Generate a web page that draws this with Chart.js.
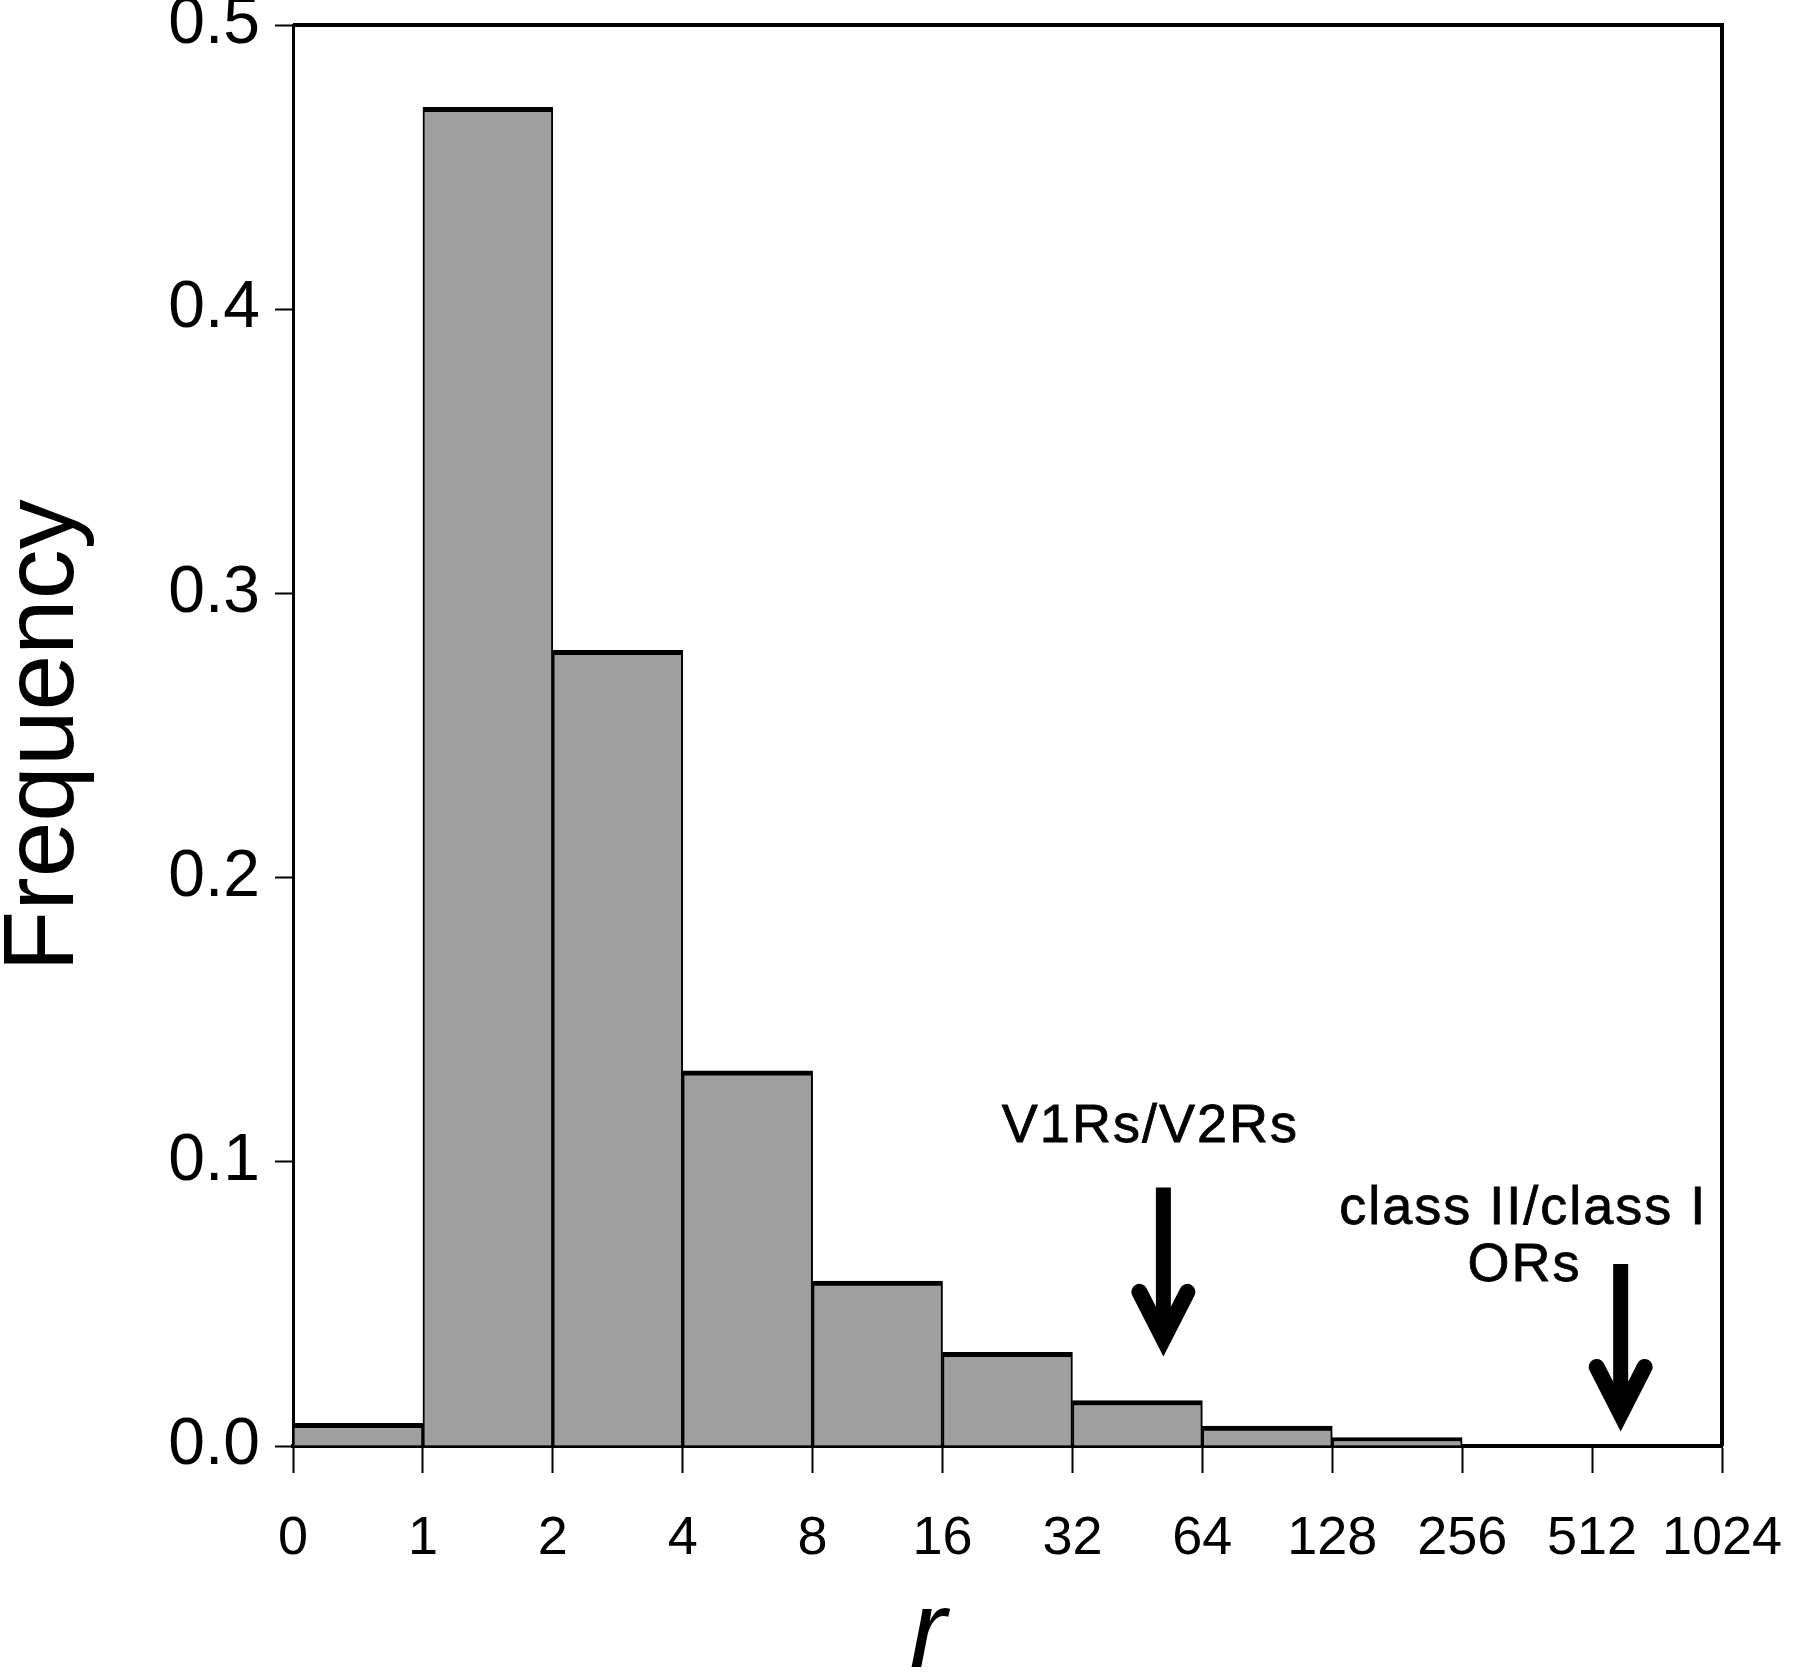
<!DOCTYPE html>
<html>
<head>
<meta charset="utf-8">
<script src="https://cdn.jsdelivr.net/npm/chart.js@4.4.1/dist/chart.umd.min.js"></script>
<style>
  html, body { margin: 0; padding: 0; background: #fff; }
  #wrap { width: 1800px; height: 1673px; position: relative; }
</style>
</head>
<body>
<div id="wrap"><canvas id="chartFreq"></canvas></div>
<script>
// bins: 0-1, 1-2, 2-4, ... 512-1024
const binEdges = ['0', '1', '2', '4', '8', '16', '32', '64', '128', '256', '512', '1024'];
const frequency = [0.008, 0.471, 0.280, 0.132, 0.058, 0.033, 0.016, 0.007, 0.003, 0, 0];

// annotations, in axis units (bin index, frequency)
const arrowX = [6.70, 10.22];
const arrowTop = [0.091, 0.064];
const arrowTip = [0.031, 0.0046];
const noteText = ['V1Rs/V2Rs', 'class II/class I', 'ORs'];
const noteX = [6.60, 9.47, 9.48];
const noteY = [0.107, 0.078, 0.058];

const FONT = '"Liberation Sans", Arial, Helvetica, sans-serif';

const frameAndNotes = {
  id: 'frameAndNotes',
  afterDraw(chart) {
    const { ctx, chartArea: a, scales } = chart;
    ctx.save();
    // top and right edges of the box
    ctx.strokeStyle = '#000';
    ctx.lineWidth = 4;
    ctx.beginPath();
    ctx.moveTo(a.left, a.top);
    ctx.lineTo(a.right, a.top);
    ctx.lineTo(a.right, a.bottom);
    ctx.stroke();

    // arrows
    for (let i = 0; i < arrowX.length; i++) {
      const x = scales.x.getPixelForValue(arrowX[i]);
      const y0 = scales.y.getPixelForValue(arrowTop[i]);
      const y1 = scales.y.getPixelForValue(arrowTip[i]);
      ctx.lineWidth = 15;
      ctx.lineCap = 'butt';
      ctx.beginPath();
      ctx.moveTo(x, y0);
      ctx.lineTo(x, y1 - 20);
      ctx.stroke();
      // chevron head
      ctx.lineWidth = 16;
      ctx.lineCap = 'round';
      ctx.lineJoin = 'miter';
      ctx.miterLimit = 10;
      ctx.beginPath();
      ctx.moveTo(x - 24, y1 - 66);
      ctx.lineTo(x, y1 - 19);
      ctx.lineTo(x + 24, y1 - 66);
      ctx.stroke();
    }

    // labels
    ctx.fillStyle = '#000';
    ctx.strokeStyle = '#000';
    ctx.lineWidth = 0.8;
    ctx.font = '54px ' + FONT;
    ctx.letterSpacing = '2px';
    ctx.textAlign = 'center';
    ctx.textBaseline = 'alphabetic';
    for (let i = 0; i < noteText.length; i++) {
      const tx = scales.x.getPixelForValue(noteX[i]);
      const ty = scales.y.getPixelForValue(noteY[i]);
      ctx.fillText(noteText[i], tx, ty);
      ctx.strokeText(noteText[i], tx, ty);
    }
    ctx.letterSpacing = '0px';

    // x axis title
    ctx.font = 'italic 110px ' + FONT;
    ctx.fillText('r', 928, 1667);
    ctx.restore();
  }
};

const data = {
  datasets: [{
    label: 'Frequency',
    data: frequency.map((v, i) => ({ x: i + 0.5, y: v })),
    backgroundColor: '#9f9f9f',
    borderColor: '#000',
    borderWidth: { top: 5, left: 2, right: 2, bottom: 0 },
    borderSkipped: false,
    barPercentage: 1,
    categoryPercentage: 1
  }]
};

const config = {
  type: 'bar',
  data: data,
  options: {
    responsive: true,
    maintainAspectRatio: false,
    animation: false,
    devicePixelRatio: 1,
    layout: { padding: { top: 25, right: 78, left: 0, bottom: 0 } },
    plugins: {
      legend: { display: false },
      tooltip: { enabled: false }
    },
    scales: {
      x: {
        type: 'linear',
        min: 0,
        max: 11,
        offset: false,
        grid: { offset: false, drawOnChartArea: false, drawTicks: true, tickLength: 27, tickWidth: 2, tickColor: '#000' },
        border: { display: true, color: '#000', width: 4 },
        ticks: {
          stepSize: 1,
          autoSkip: false,
          maxRotation: 0,
          padding: 34,
          color: '#000',
          font: { family: FONT, size: 54 },
          callback: (v) => binEdges[v]
        },
        afterFit(scale) {
          scale.height = 227;
          scale.paddingLeft = 0;
          scale.paddingRight = 0;
        }
      },
      y: {
        min: 0,
        max: 0.5,
        grid: { drawOnChartArea: false, drawTicks: true, tickLength: 18, tickWidth: 2, tickColor: '#000' },
        border: { display: true, color: '#000', width: 3 },
        ticks: {
          stepSize: 0.1,
          padding: 15,
          color: '#000',
          font: { family: FONT, size: 66 },
          callback: (v) => v.toFixed(1)
        },
        title: {
          display: true,
          text: 'Frequency',
          color: '#000',
          padding: 0,
          font: { family: FONT, size: 100, lineHeight: 0.9 }
        },
        afterFit(scale) {
          scale.width = 293;
          scale.paddingTop = 0;
          scale.paddingBottom = 0;
        }
      }
    }
  },
  plugins: [frameAndNotes]
};

const node = document.getElementById('chartFreq');
var chartFreq = new Chart(node, config);
</script>
</body>
</html>
